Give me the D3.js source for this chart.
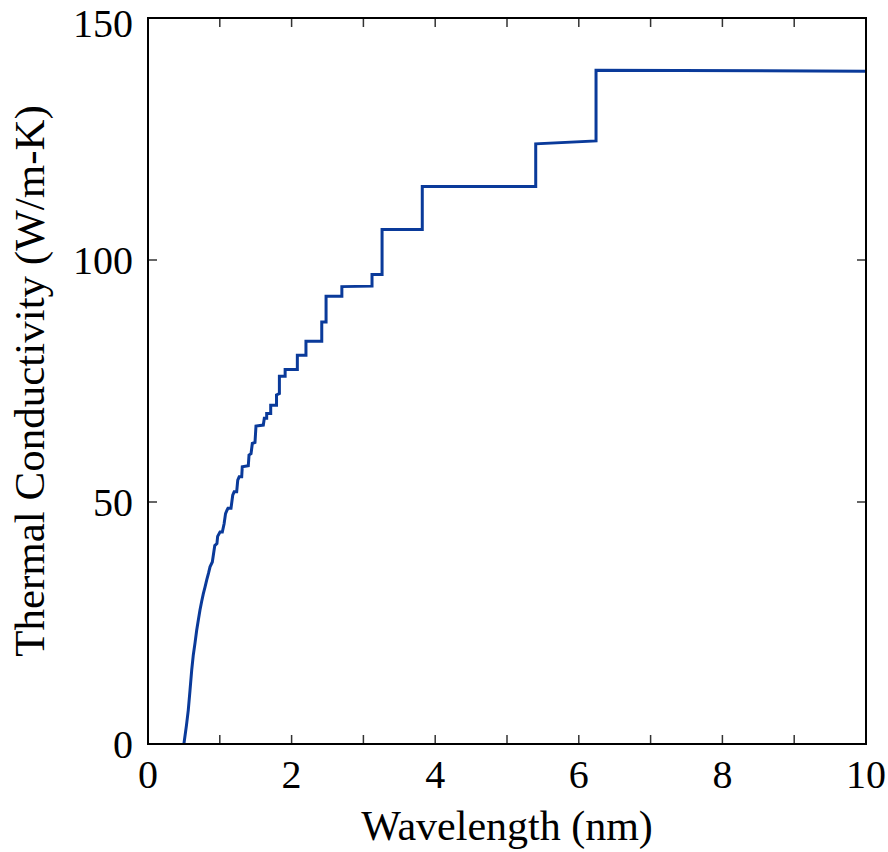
<!DOCTYPE html>
<meta charset="utf-8">
<html>
<style type='text/css'>
  body { margin:0; background:#fff; }
  text { font-family: "Liberation Serif", "Times New Roman", serif; fill:#000; }
</style>
<script src="https://d3js.org/d3.v7.min.js"></script>
<body>
<svg id="my_dataviz" width="888" height="852"></svg>
<script>

// wavelength (nm)
var wavelength = [0.50, 0.536, 0.561, 0.585, 0.609, 0.631, 0.655, 0.678, 0.701, 0.724, 0.748, 0.770, 0.794, 0.818, 0.843, 0.864, 0.896,
  0.93, 0.96, 0.97, 1.003, 1.035, 1.06, 1.08, 1.10, 1.114, 1.156, 1.18, 1.20, 1.235, 1.25, 1.27, 1.305, 1.313, 1.397,
  1.407, 1.435, 1.453, 1.49, 1.504, 1.606, 1.62, 1.653, 1.653, 1.709, 1.709, 1.79, 1.79, 1.83, 1.83, 1.91, 1.91,
  2.08, 2.08, 2.20, 2.20, 2.42, 2.42, 2.48, 2.48, 2.70, 2.70, 3.12, 3.12, 3.26, 3.26, 3.82, 3.82, 5.40, 5.40, 6.24, 6.24, 10];
// thermal conductivity (W/m-K)
var conductivity = [0, 3.9, 7.0, 11.1, 15.3, 18.4, 20.9, 23.5, 25.6, 27.7, 29.5, 31.0, 32.4, 33.9, 35.3, 36.6, 37.6,
  41.0, 41.4, 42.9, 43.8, 43.8, 45.5, 47.6, 48.3, 48.7, 48.7, 51.4, 52.1, 52.1, 54.5, 55.2, 55.2, 57.3, 57.5,
  59.7, 60.0, 62.1, 62.3, 65.7, 65.9, 67.3, 67.3, 68.3, 68.3, 70.0, 70.0, 72.1, 72.4, 76.0, 76.0, 77.4,
  77.4, 80.3, 80.3, 83.2, 83.2, 87.2, 87.2, 92.5, 92.5, 94.5, 94.6, 97.0, 97.0, 106.3, 106.3, 115.2, 115.2, 124.0, 124.6, 139.2, 139.0];

var xTicks = [0, 2, 4, 6, 8, 10];
var xMinor = [0, 1, 2, 3, 4, 5, 6, 7, 8, 9, 10];
var yTicks = [0, 50, 100, 150];

var svg = d3.select("svg");
var margin = {left: 148, right: 22, top: 18, bottom: 108};
var W = 888 - margin.left - margin.right;
var H = 852 - margin.top - margin.bottom;

var x = d3.scaleLinear().domain([0, 10]).range([0, W]);
var y = d3.scaleLinear().domain([0, 150]).range([H, 0]);

var g = svg.append("g").attr("transform", "translate(" + margin.left + "," + margin.top + ")");

// inward ticks on all four sides
var tickLen = 9;
g.selectAll(".xtb").data(xMinor).enter().append("line")
  .attr("x1", d => x(d)).attr("x2", d => x(d)).attr("y1", H).attr("y2", H - tickLen)
  .attr("stroke", "#333").attr("stroke-width", 1.5);
g.selectAll(".xtt").data(xMinor).enter().append("line")
  .attr("x1", d => x(d)).attr("x2", d => x(d)).attr("y1", 0).attr("y2", tickLen)
  .attr("stroke", "#333").attr("stroke-width", 1.5);
g.selectAll(".ytl").data(yTicks).enter().append("line")
  .attr("x1", 0).attr("x2", tickLen).attr("y1", d => y(d)).attr("y2", d => y(d))
  .attr("stroke", "#333").attr("stroke-width", 1.5);
g.selectAll(".ytr").data(yTicks).enter().append("line")
  .attr("x1", W).attr("x2", W - tickLen).attr("y1", d => y(d)).attr("y2", d => y(d))
  .attr("stroke", "#333").attr("stroke-width", 1.5);

// tick labels
g.selectAll(".xl").data(xTicks).enter().append("text")
  .attr("x", d => x(d)).attr("y", H + 44)
  .attr("text-anchor", "middle").style("font-size", "40px")
  .text(d => d);
// top label sits a little lower so it stays on the page
g.selectAll(".yl").data(yTicks).enter().append("text")
  .attr("x", -15).attr("y", d => Math.max(y(d), 5)).attr("dy", "0.35em")
  .attr("text-anchor", "end").style("font-size", "40px")
  .text(d => d);

// the curve
var line = d3.line().x((d, i) => x(wavelength[i])).y((d, i) => y(conductivity[i]));
g.append("path").datum(wavelength)
  .attr("d", line)
  .attr("fill", "none").attr("stroke", "#0a3a9a").attr("stroke-width", 3)
  .attr("stroke-linejoin", "miter");

// frame
g.append("rect").attr("width", W).attr("height", H)
  .attr("fill", "none").attr("stroke", "#000").attr("stroke-width", 2);

// axis titles
svg.append("text")
  .attr("x", margin.left + W / 2).attr("y", 840)
  .attr("text-anchor", "middle").style("font-size", "42px")
  .text("Wavelength (nm)");
svg.append("text")
  .attr("transform", "translate(44," + (margin.top + H / 2) + ") rotate(-90)")
  .attr("text-anchor", "middle").style("font-size", "43px")
  .text("Thermal Conductivity (W/m-K)");

</script>
</body>
</html>
